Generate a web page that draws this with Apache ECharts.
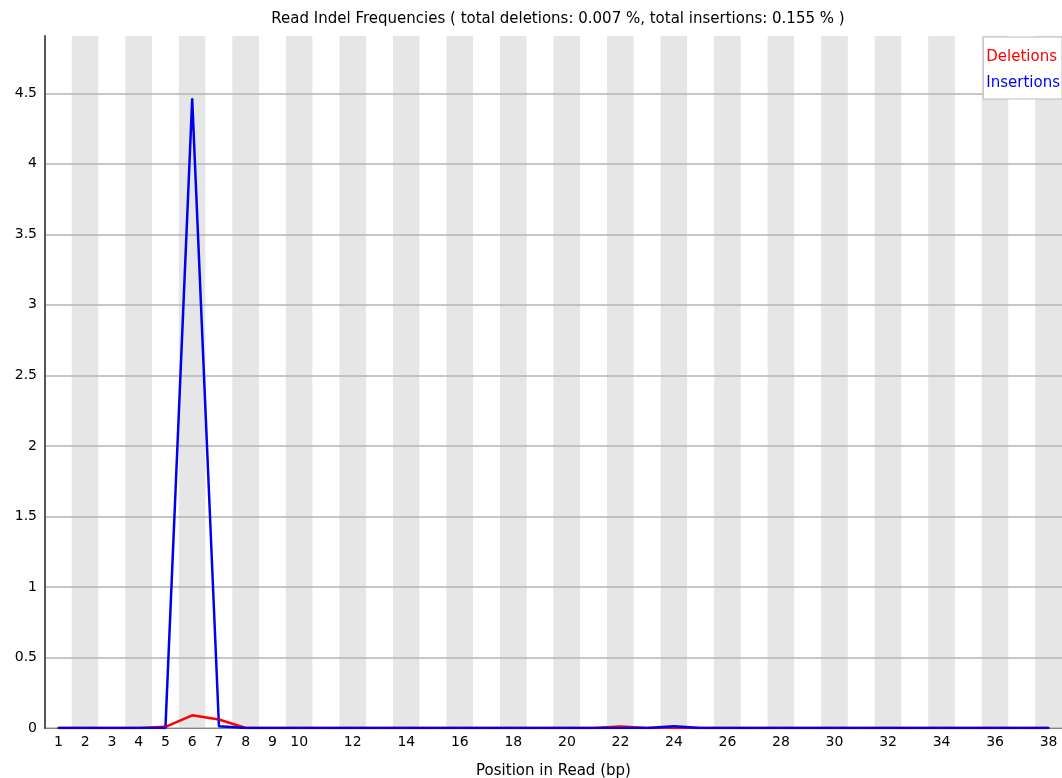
<!DOCTYPE html>
<html>
<head>
<meta charset="utf-8">
<script src="https://cdn.jsdelivr.net/npm/echarts@6/dist/echarts.min.js"></script>
<style>
  html, body { margin: 0; padding: 0; background: #fff; }
  #chart { width: 1062px; height: 778px; }
</style>
</head>
<body>
<div id="chart"></div>
<script>
// positions 1..38
const positions = ['1', '2', '3', '4', '5', '6', '7', '8', '9', '10', '11', '12', '13', '14', '15', '16', '17', '18', '19',
  '20', '21', '22', '23', '24', '25', '26', '27', '28', '29', '30', '31', '32', '33', '34', '35', '36', '37', '38'];

const deletions = [0, 0, 0, 0, 0.008, 0.09, 0.06, 0, 0, 0, 0, 0, 0, 0, 0, 0, 0, 0, 0,
  0, 0, 0.01, 0, 0, 0, 0, 0, 0, 0, 0, 0, 0, 0, 0, 0, 0, 0, 0];

const insertions = [0, 0, 0, 0, 0, 4.46, 0.012, 0, 0, 0, 0, 0, 0, 0, 0, 0, 0, 0, 0,
  0, 0, 0, 0, 0.012, 0, 0, 0, 0, 0, 0, 0, 0, 0, 0, 0, 0, 0, 0];

const yTicks = [0, 0.5, 1, 1.5, 2, 2.5, 3, 3.5, 4, 4.5];

const font = 'DejaVu Sans';
const chart = echarts.init(document.getElementById('chart'));

chart.setOption({
  animation: false,
  textStyle: { fontFamily: font },
  title: {
    text: 'Read Indel Frequencies ( total deletions: 0.007 %, total insertions: 0.155 % )',
    left: 553,
    textAlign: 'center',
    top: 7,
    textStyle: { fontSize: 15, fontWeight: 'normal', color: '#000', fontFamily: font }
  },
  legend: {
    orient: 'vertical',
    right: 0,
    top: 37,
    padding: [13, 2, 8, 3],
    itemGap: 11,
    itemWidth: 0,
    itemHeight: 0,
    backgroundColor: '#fff',
    borderColor: '#bbb',
    borderWidth: 1,
    borderRadius: 0,
    selectedMode: false,
    data: [
      { name: 'Deletions', icon: 'rect', textStyle: { color: '#ff0000' } },
      { name: 'Insertions', icon: 'rect', textStyle: { color: '#0000ff' } }
    ],
    textStyle: { fontSize: 15, fontFamily: font, padding: [0, 0, 0, -5] }
  },
  grid: { left: 45, right: 0, top: 36, bottom: 50, outerBoundsMode: 'none', containLabel: false },
  xAxis: {
    type: 'category',
    data: positions,
    boundaryGap: true,
    name: 'Position in Read (bp)',
    nameLocation: 'middle',
    nameGap: 36,
    nameTextStyle: { fontSize: 15, color: '#000', fontFamily: font },
    axisLine: { lineStyle: { color: '#000', width: 1 } },
    axisTick: { show: false },
    axisLabel: {
      fontSize: 14,
      color: '#000',
      margin: 7,
      interval: (i, v) => Number(v) <= 10 || Number(v) % 2 === 0
    },
    splitLine: { show: false },
    splitArea: {
      show: true,
      interval: 0,
      areaStyle: { color: ['#ffffff', '#e6e6e6'] }
    }
  },
  yAxis: {
    type: 'value',
    min: 0,
    max: 4.906,
    interval: 0.5,
    z: 1,
    axisLine: { show: true, lineStyle: { color: '#555', width: 2 } },
    axisTick: { show: false },
    axisLabel: {
      fontSize: 14,
      color: '#000',
      margin: 8,
      showMaxLabel: false,
      formatter: v => yTicks.includes(Math.round(v * 10) / 10) ? String(Math.round(v * 10) / 10) : ''
    },
    splitLine: { show: true, showMaxLine: false, lineStyle: { color: '#b4b4b4', width: 1.5 } }
  },
  series: [
    {
      name: 'Deletions',
      type: 'line',
      data: deletions,
      symbol: 'circle',
      symbolSize: 2,
      lineStyle: { color: '#ff0000', width: 2.5 },
      itemStyle: { color: '#ff0000' }
    },
    {
      name: 'Insertions',
      type: 'line',
      data: insertions,
      symbol: 'circle',
      symbolSize: 2,
      lineStyle: { color: '#0000ee', width: 2.5 },
      itemStyle: { color: '#0000ee' }
    }
  ]
});
</script>
</body>
</html>
